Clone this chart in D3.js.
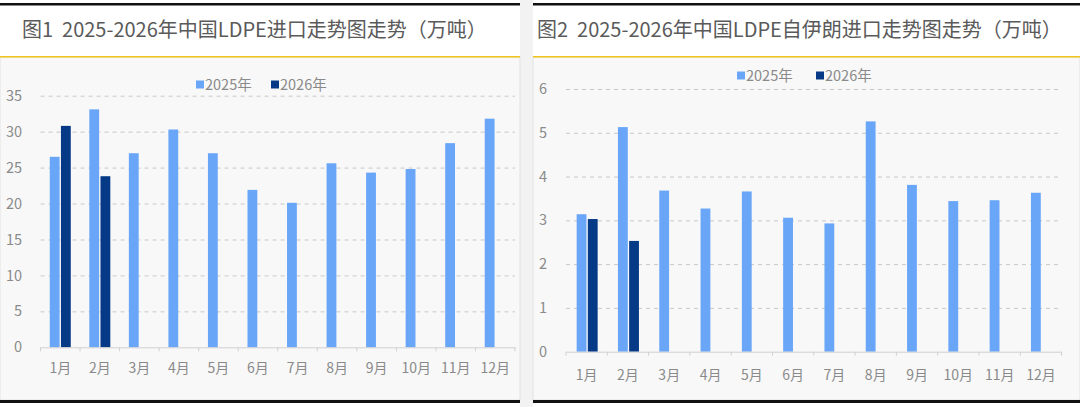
<!DOCTYPE html>
<html><head><meta charset="utf-8">
<script src="https://cdn.jsdelivr.net/npm/d3@7/dist/d3.min.js"></script>
<style>
html,body{margin:0;padding:0;background:#fff;}
svg{display:block;font-family:"Noto Sans CJK SC","Noto Sans",sans-serif;}
</style></head><body>
<svg id="c" width="1080" height="407"></svg>
<script>
const months = ['1月','2月','3月','4月','5月','6月','7月','8月','9月','10月','11月','12月'];
const seriesNames = ['2025年','2026年'];
const seriesColors = ['#6aa6f8','#063a86'];
const ldpe2025 = [26.5,33.1,27.0,30.3,27.0,21.9,20.1,25.6,24.3,24.8,28.4,31.8];
const ldpe2026 = [30.8,23.8];
const iran2025 = [3.14,5.13,3.68,3.27,3.66,3.06,2.93,5.26,3.81,3.44,3.46,3.63];
const iran2026 = [3.03,2.53];
const ldpeTicks = [0,5,10,15,20,25,30,35];
const iranTicks = [0,1,2,3,4,5,6];
const title1 = '图1  2025-2026年中国LDPE进口走势图走势（万吨）';
const title2 = '图2  2025-2026年中国LDPE自伊朗进口走势图走势（万吨）';

const svg = d3.select('#c');

// gap stripe
svg.append('rect').attr('x',520).attr('y',0).attr('width',13).attr('height',407).attr('fill','#f2f2f2');

function panel(cfg){
  const g = svg.append('g');
  g.append('rect').attr('x',cfg.px0).attr('y',0).attr('width',cfg.px1-cfg.px0).attr('height',57).attr('fill','#fff');
  g.append('rect').attr('x',cfg.px0).attr('y',57).attr('width',cfg.px1-cfg.px0).attr('height',343)
    .attr('fill','#f8f8f8').attr('stroke','#e2e2e2').attr('stroke-width',1);
  g.append('rect').attr('x',cfg.px0).attr('y',3).attr('width',cfg.px1-cfg.px0).attr('height',2.5).attr('fill','#111');
  g.append('rect').attr('x',cfg.px0).attr('y',56).attr('width',cfg.px1-cfg.px0).attr('height',1.5).attr('fill','#f2c318');
  g.append('rect').attr('x',cfg.px0).attr('y',400).attr('width',cfg.px1-cfg.px0).attr('height',3).attr('fill','#111');
  g.append('text').attr('x',cfg.tx).attr('y',37).attr('font-size',20).attr('fill','#5a5a5a').attr('xml:space','preserve').text(cfg.title);

  const y = d3.scaleLinear().domain([0,cfg.ymax]).range([cfg.y0,cfg.y1]);
  const x0 = d3.scaleBand().domain(months).range([cfg.xa,cfg.xb]).padding(0);
  const groupW = 21;
  const x1 = d3.scaleBand().domain(seriesNames).range([0,groupW]).paddingInner(0.12);
  const off = (x0.bandwidth()-groupW)/2 + cfg.shift;

  const grid = g.append('g')
    .call(d3.axisLeft(y).tickValues(cfg.ticks).tickSize(-(cfg.xb-cfg.xa)).tickFormat(''))
    .attr('transform',`translate(${cfg.xa},0)`);
  grid.select('.domain').remove();
  grid.selectAll('.tick line').attr('stroke','#c8c8c8').attr('stroke-dasharray','4,4')
    .filter(d=>d===0).remove();

  const ya = g.append('g').attr('transform',`translate(${cfg.lx},0)`)
    .call(d3.axisLeft(y).tickValues(cfg.ticks).tickFormat(d3.format('d')).tickSize(0).tickPadding(0));
  ya.select('.domain').remove();
  ya.selectAll('text').attr('font-size',14.5).attr('fill','#8a8a8a').attr('font-family','"Noto Sans CJK SC","Noto Sans",sans-serif');

  const data = [];
  months.forEach((m,i)=>{
    [cfg.s1,cfg.s2].forEach((arr,k)=>{
      if(i<arr.length) data.push({m,s:seriesNames[k],v:arr[i],k});
    });
  });
  g.append('g').selectAll('rect').data(data).join('rect')
    .attr('x',d=>x0(d.m)+off+x1(d.s))
    .attr('width',x1.bandwidth())
    .attr('y',d=>y(d.v))
    .attr('height',d=>y(0)-y(d.v))
    .attr('fill',d=>seriesColors[d.k]);

  const xa = g.append('g').attr('transform',`translate(0,${cfg.y0})`)
    .call(d3.axisBottom(x0).tickSize(0).tickPadding(cfg.xlpad));
  xa.select('.domain').attr('stroke','#d0d0d0');
  xa.selectAll('text').attr('font-size',14).attr('fill','#8a8a8a').attr('font-family','"Noto Sans CJK SC","Noto Sans",sans-serif');
  const bounds = months.map(m=>x0(m)).concat([cfg.xb]);
  g.append('g').selectAll('line').data(bounds).join('line')
    .attr('x1',d=>d).attr('x2',d=>d).attr('y1',cfg.y0).attr('y2',cfg.y0+4)
    .attr('stroke','#d0d0d0');

  const lg = g.append('g');
  seriesNames.forEach((s,k)=>{
    const lx = cfg.legX[k];
    lg.append('rect').attr('x',lx).attr('y',cfg.legY-4.5).attr('width',8).attr('height',8).attr('fill',seriesColors[k]);
    lg.append('text').attr('x',lx+9).attr('y',cfg.legY+5).attr('font-size',14.5).attr('fill','#8a8a8a').text(s);
  });
}

panel({px0:0,px1:520,tx:22,title:title1,ymax:35,y0:347.3,y1:95.7,xa:40.5,xb:515,shift:0,ticks:ldpeTicks,
  lx:22,s1:ldpe2025,s2:ldpe2026,xlpad:16,legX:[196,271],legY:85});
panel({px0:533,px1:1080,tx:537,title:title2,ymax:6,y0:351.7,y1:89,xa:566,xb:1061.6,shift:0.5,ticks:iranTicks,
  lx:547,s1:iran2025,s2:iran2026,xlpad:18,legX:[737,816],legY:76});
</script>
</body></html>
